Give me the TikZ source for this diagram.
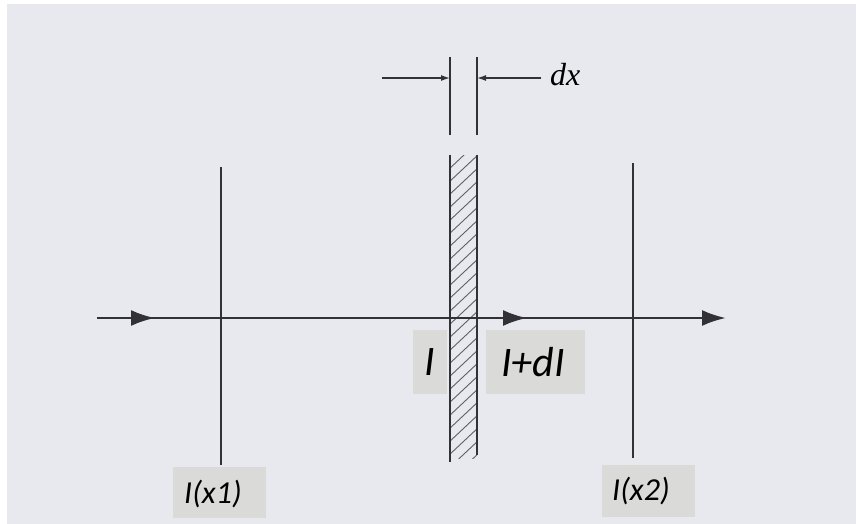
\documentclass[tikz,border=0pt]{standalone}
\usepackage{fontspec}
\setmainfont{Carlito}
\newfontfamily\dxfont{Liberation Serif}
\usetikzlibrary{arrows.meta,decorations.markings}
\definecolor{bgc}{RGB}{232,232,239}
\definecolor{boxc}{RGB}{218,218,217}
\definecolor{inkc}{RGB}{50,50,54}
\definecolor{hatchc}{RGB}{95,95,100}
\tikzset{
  vline/.style={draw=inkc,line width=2pt},
  beam/.style={draw=inkc,line width=2.6pt},
  lbl/.style={inner sep=0pt,font=\itshape},
  dxarrow/.style={draw=inkc,line width=1.4pt,-{Latex[length=9pt,width=6pt]}},
}
\begin{document}
\begin{tikzpicture}[x=1pt,y=-1pt]
\useasboundingbox (0,0) rectangle (856,524);
\fill[white] (0,0) rectangle (856,524);
\fill[bgc] (7,4) rectangle (856,524);

% label boxes
\fill[boxc] (413,330) rectangle (447,394);
\fill[boxc] (486,330) rectangle (585,394);
\fill[boxc] (173,467) rectangle (266,518);
\fill[boxc] (602,465) rectangle (695,517);
\node[lbl,font=\itshape\fontsize{42}{42}\selectfont] (lI) at (430,362) {I};
\node[lbl,font=\itshape\fontsize{42}{42}\selectfont] (lIdI) at (533,362) {I+dI};
\node[lbl,font=\itshape\fontsize{32}{32}\selectfont] (lx1) at (213,494) {I(x1)};
\node[lbl,font=\itshape\fontsize{32}{32}\selectfont] (lx2) at (641,491) {I(x2)};

% hatched strip
\begin{scope}
  \clip (450,155) rectangle (477,458);
  \foreach \k in {0,...,26}{
    \draw[hatchc,line width=0.9pt] (448,{170+13*\k}) -- (480,{170+13*\k-30});
  }
\end{scope}
\coordinate (aL1) at (450,57);
\coordinate (aL2) at (450,135);
\coordinate (aR1) at (477,57);
\coordinate (aR2) at (477,135);
\coordinate (bL1) at (450,155);
\coordinate (bL2) at (450,462);
\coordinate (bR1) at (477,155);
\coordinate (bR2) at (477,455);
\draw[vline] (aL1) -- (aL2);
\draw[vline] (aR1) -- (aR2);
\draw[vline] (bL1) -- (bL2);
\draw[vline] (bR1) -- (bR2);

% x1 and x2 planes
\coordinate (x1t) at (221,167);
\coordinate (x1b) at (221,465);
\coordinate (x2t) at (633,163);
\coordinate (x2b) at (633,458);
\draw[vline] (x1t) -- (x1b);
\draw[vline] (x2t) -- (x2b);

% beam
\coordinate (bs) at (97,318);
\coordinate (be) at (726,318);
\draw[beam,
  postaction={decorate,decoration={markings,
    mark=at position 58pt with {\arrow{Latex[length=24pt,width=16pt]}},
    mark=at position 430pt with {\arrow{Latex[length=24pt,width=16pt]}}}},
  -{Latex[length=24pt,width=16pt]}] (bs) -- (be);

% dx
\coordinate (dxa) at (382,78);
\coordinate (dxb) at (541,78);
\coordinate (dxL) at (450,78);
\coordinate (dxR) at (477,78);
\draw[dxarrow] (dxa) -- (dxL);
\draw[dxarrow] (dxb) -- (dxR);
\node[font=\dxfont\itshape\fontsize{32}{32}\selectfont,inner sep=0pt,anchor=west] (dx) at (550,75) {dx};
\end{tikzpicture}
\end{document}
